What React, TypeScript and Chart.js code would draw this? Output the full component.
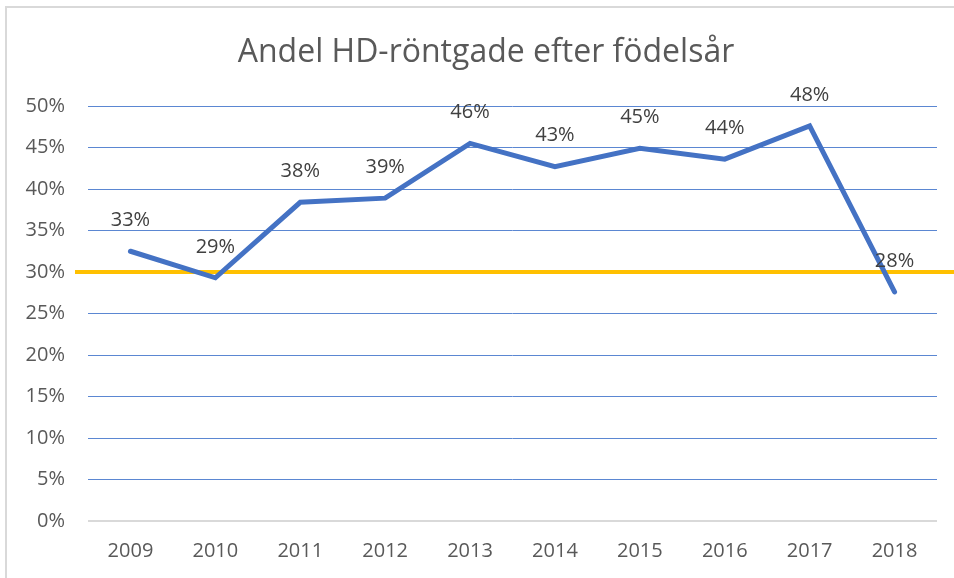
import React, { useEffect, useRef } from "react";
import { Chart, registerables } from "chart.js";

Chart.register(...registerables);

const TITLE = "Andel HD-röntgade efter födelsår";
const YEARS = ["2009", "2010", "2011", "2012", "2013", "2014", "2015", "2016", "2017", "2018"];
const SHARE = [32.5, 29.3, 38.4, 38.9, 45.5, 42.7, 44.9, 43.6, 47.6, 27.6];
const LABELS = ["33%", "29%", "38%", "39%", "46%", "43%", "45%", "44%", "48%", "28%"];
const TARGET = 30;
const Y_MIN = 0;
const Y_MAX = 50;
const Y_STEP = 5;

const FONT = "'Open Sans', 'DejaVu Sans', sans-serif";

const framePlugin = {
  id: "frame",
  beforeDraw(chart: any) {
    const ctx = chart.ctx;
    ctx.save();
    ctx.fillStyle = "#ffffff";
    ctx.fillRect(0, 0, chart.width, chart.height);
    ctx.strokeStyle = "#d9d9d9";
    ctx.lineWidth = 2;
    ctx.beginPath();
    ctx.moveTo(6, chart.height + 2);
    ctx.lineTo(6, 7);
    ctx.lineTo(chart.width + 2, 7);
    ctx.stroke();
    ctx.fillStyle = "#595959";
    ctx.font = `32px ${FONT}`;
    ctx.textAlign = "center";
    ctx.textBaseline = "middle";
    ctx.fillText(TITLE, 486, 53);
    ctx.restore();
  },
};

const targetPlugin = {
  id: "targetLine",
  beforeDatasetsDraw(chart: any) {
    const y = chart.scales.y.getPixelForValue(TARGET);
    const ctx = chart.ctx;
    ctx.save();
    ctx.strokeStyle = "#FFC000";
    ctx.lineWidth = 4;
    ctx.beginPath();
    ctx.moveTo(75, y);
    ctx.lineTo(chart.width, y);
    ctx.stroke();
    ctx.restore();
  },
};

const labelPlugin = {
  id: "pointLabels",
  afterDatasetsDraw(chart: any) {
    const meta = chart.getDatasetMeta(0);
    const ctx = chart.ctx;
    ctx.save();
    ctx.fillStyle = "#404040";
    ctx.font = `20px ${FONT}`;
    ctx.textAlign = "center";
    ctx.textBaseline = "middle";
    meta.data.forEach((pt: any, i: number) => {
      ctx.fillText(LABELS[i], pt.x, pt.y - 31);
    });
    ctx.restore();
  },
};

export default function App() {
  const ref = useRef<HTMLCanvasElement>(null);
  useEffect(() => {
    document.body.style.margin = "0";
    const chart = new Chart(ref.current!, {
      type: "line",
      data: {
        labels: YEARS,
        datasets: [
          {
            data: SHARE,
            borderColor: "#4472C4",
            borderWidth: 5,
            pointRadius: 0,
            tension: 0,
            borderCapStyle: "round",
            borderJoinStyle: "miter",
          },
        ],
      },
      options: {
        animation: false,
        responsive: false,
        layout: { padding: { top: 106, right: 17, bottom: 0, left: 0 } },
        plugins: {
          legend: { display: false },
          tooltip: { enabled: false },
          title: { display: false },
        },
        scales: {
          x: {
            offset: true,
            grid: { display: false, drawTicks: false },
            border: { display: false },
            ticks: {
              color: "#595959",
              font: { family: FONT, size: 20 },
              padding: 18,
              maxRotation: 0,
            },
            afterFit: (s: any) => {
              s.height = 57;
            },
          },
          y: {
            min: Y_MIN,
            max: Y_MAX,
            grid: {
              drawTicks: false,
              color: (c: any) => (c.tick && c.tick.value === 0 ? "#d9d9d9" : "#5B87D2"),
              lineWidth: (c: any) => (c.tick && c.tick.value === 0 ? 2 : 1),
            },
            border: { display: false },
            ticks: {
              stepSize: Y_STEP,
              color: "#595959",
              font: { family: FONT, size: 20 },
              padding: 23,
              callback: (v: any) => `${v}%`,
            },
            afterFit: (s: any) => {
              s.width = 88;
            },
          },
        },
      },
      plugins: [framePlugin, targetPlugin, labelPlugin],
    });
    return () => chart.destroy();
  }, []);
  return (
    <div style={{ width: 954, height: 578 }}>
      <canvas ref={ref} width={954} height={578} style={{ display: "block" }} />
    </div>
  );
}
